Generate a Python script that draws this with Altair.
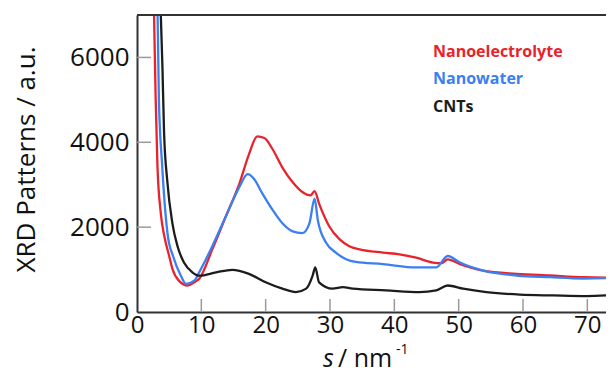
import altair as alt
import pandas as pd

# ---- data ----
s_red = [2.65, 2.9, 3.17, 3.7, 4.25, 5.0, 5.5, 6.5, 7.9, 9.1, 9.66, 11.7, 13.8, 15.9, 17.4, 18.7, 19.8,
         21.1, 22.6, 24.2, 25.7, 27.0, 27.6, 28.3, 29.9, 31.5, 33.0, 34.6, 38.2, 40.8, 43.4, 46.0,
         47.3, 48.3, 50.2, 53.8, 59.0, 64.2, 69.4, 74.0]
y_red = [7000, 5030, 3480, 2325, 1785, 1320, 1020, 740, 625, 720, 780, 1475, 2250, 3020, 3715, 4140, 4100,
         3830, 3405, 3060, 2830, 2750, 2850, 2555, 2015, 1710, 1550, 1475, 1400, 1360, 1280, 1165,
         1150, 1240, 1130, 975, 900, 860, 820, 810]

s_blue = [3.2, 3.4, 3.9, 4.8, 5.6, 6.8, 7.6, 8.9, 9.66, 11.7, 13.8, 15.9, 17.2, 18.2, 19.5, 21.1,
          22.6, 24.2, 25.7, 26.8, 27.6, 28.1, 29.4, 30.9, 32.5, 34.0, 38.2, 43.4, 46.5, 48.3,
          50.2, 53.8, 59.0, 64.2, 69.4, 74.0]
y_blue = [7000, 5030, 3480, 1785, 1320, 860, 665, 740, 935, 1550, 2250, 2940, 3250, 3135, 2790, 2400,
          2090, 1900, 1860, 2090, 2670, 2170, 1630, 1400, 1245, 1180, 1130, 1050, 1050, 1320,
          1165, 975, 860, 820, 790, 800]

s_cnt = [3.7, 3.95, 4.2, 4.7, 5.5, 6.3, 7.3, 8.6, 9.7, 12.3, 14.8, 17.4, 20.0, 22.6, 24.7, 26.3,
         27.3, 27.7, 28.3, 30.4, 32.0, 33.5, 38.7, 43.9, 46.5, 48.3, 50.7,
         54.3, 59.5, 64.7, 69.9, 74.0]
y_cnt = [7000, 5800, 4260, 3100, 2090, 1550, 1165, 935, 855, 935, 995, 900, 700, 550, 470, 550,
         855, 1050, 700, 550, 585, 550, 510, 470, 510, 625, 550,
         470, 410, 390, 375, 400]

series_names = ["Nanoelectrolyte", "Nanowater", "CNTs"]
series_colors = ["#e8232b", "#3b7ff2", "#1c1c1c"]

x_ticks = [10, 20, 30, 40, 50, 60, 70]
y_ticks = [2000, 4000, 6000]
x_labels = [0, 10, 20, 30, 40, 50, 60, 70]
y_labels = [0, 2000, 4000, 6000]

W, H = 469, 297
XMAX = 72.9
YMAX = 7000
FONT = "Open Sans"

xs = alt.Scale(domain=[0, XMAX], nice=False, zero=False)
ys = alt.Scale(domain=[0, YMAX], nice=False)

x_axis = alt.Axis(values=x_labels, format="d", labelFontSize=24, labelFont=FONT, labelColor="#111",
                  tickSize=0, labelPadding=1, domainColor="#333", domainWidth=2,
                  grid=False, title=None, labelFlush=False)
y_axis = alt.Axis(values=y_labels, format="d", labelFontSize=26, labelFont=FONT, labelColor="#111",
                  tickSize=0, labelPadding=8, domainColor="#333", domainWidth=2,
                  grid=False, title="XRD Patterns / a.u.", titleFont=FONT, titleFontSize=26,
                  titleFontWeight="normal", titleColor="#111", titleX=-111, titleY=144,
                  titleAngle=-90, titleAlign="center", titleBaseline="middle")


def line_layer(s, y, name, color, axes=False):
    df = pd.DataFrame({"s": s, "y": y, "series": name})
    if axes:
        xe = alt.X("s:Q", scale=xs, axis=x_axis)
        ye = alt.Y("y:Q", scale=ys, axis=y_axis)
    else:
        xe = alt.X("s:Q", scale=xs)
        ye = alt.Y("y:Q", scale=ys)
    return alt.Chart(df).mark_line(color=color, strokeWidth=2.3, clip=True,
                                   interpolate="monotone").encode(x=xe, y=ye)


red = line_layer(s_red, y_red, series_names[0], series_colors[0], axes=True)
blue = line_layer(s_blue, y_blue, series_names[1], series_colors[1])
black = line_layer(s_cnt, y_cnt, series_names[2], series_colors[2])

yt = alt.Chart(pd.DataFrame({"v": y_ticks})).mark_rule(color="#9a9a9a", strokeWidth=1.5).encode(
    y=alt.Y("v:Q", scale=ys), x=alt.value(0), x2=alt.value(14))
xt = alt.Chart(pd.DataFrame({"v": x_ticks})).mark_rule(color="#9a9a9a", strokeWidth=1.5).encode(
    x=alt.X("v:Q", scale=xs), y=alt.value(H), y2=alt.value(H - 13))

top_line = alt.Chart(pd.DataFrame({"a": [0]})).mark_rule(color="#333", strokeWidth=2).encode(
    x=alt.value(0), x2=alt.value(W), y=alt.value(0))

legend_df = pd.DataFrame({"name": series_names, "color": series_colors, "yy": [37, 64, 92]})
legend = alt.Chart(legend_df).mark_text(align="left", baseline="middle", fontSize=16,
                                        fontWeight="bold", font=FONT).encode(
    text="name:N", x=alt.value(296), y=alt.Y("yy:Q", scale=None),
    color=alt.Color("color:N", scale=None))

t_s = alt.Chart(pd.DataFrame({"t": ["s"]})).mark_text(align="left", baseline="alphabetic",
                                                     fontSize=25, fontStyle="italic", font=FONT,
                                                     color="#111").encode(
    text="t:N", x=alt.value(186), y=alt.value(352))
t_nm = alt.Chart(pd.DataFrame({"t": ["/ nm"]})).mark_text(align="left", baseline="alphabetic",
                                                         fontSize=25, font=FONT,
                                                         color="#111").encode(
    text="t:N", x=alt.value(201), y=alt.value(352))
t_sup = alt.Chart(pd.DataFrame({"t": ["-1"]})).mark_text(align="left", baseline="alphabetic",
                                                        fontSize=14, font=FONT,
                                                        color="#111").encode(
    text="t:N", x=alt.value(259), y=alt.value(339))

chart = alt.layer(red, blue, black, yt, xt, top_line, legend, t_s, t_nm, t_sup).properties(
    width=W, height=H,
    autosize=alt.AutoSizeParams(type="none"),
    padding={"left": 129, "top": 7, "right": 0, "bottom": 63},
).configure_view(stroke=None).configure(background="white")

chart.save("out.html", embed_options={"renderer": "svg", "actions": False})
